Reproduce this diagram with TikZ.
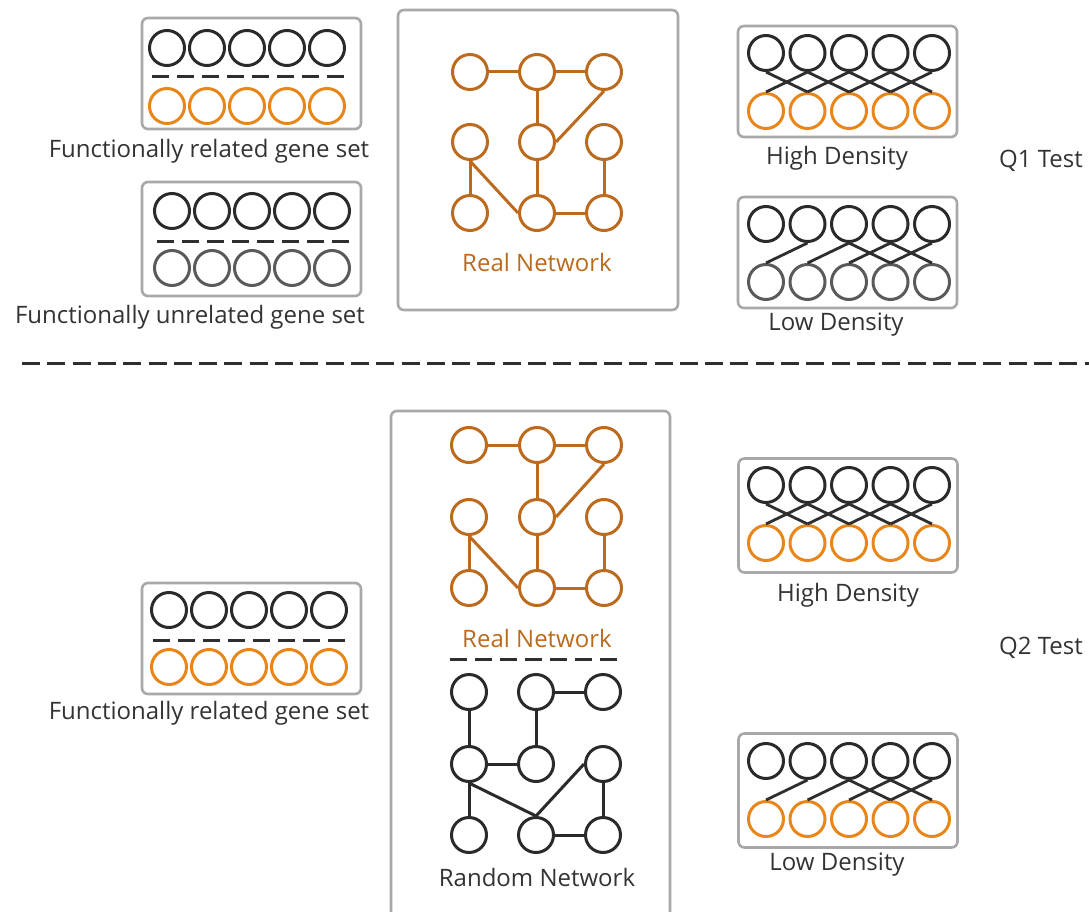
\documentclass[tikz,border=0pt]{standalone}
\usepackage{fontspec}
\setmainfont{Open Sans}
\definecolor{cblack}{HTML}{2A2A2A}
\definecolor{cgray}{HTML}{5A5A5A}
\definecolor{corange}{HTML}{E8861A}
\definecolor{cbrown}{HTML}{BC6A1E}
\definecolor{cpanel}{HTML}{A8A8A8}
\definecolor{cline}{HTML}{2E2E2E}
\definecolor{ctext}{HTML}{333333}
\begin{document}
\begin{tikzpicture}[x=1pt,y=-1pt,
  circ/.style={circle, line width=3pt, minimum size=35pt, inner sep=0pt},
  blk/.style={circ, draw=cblack},
  gry/.style={circ, draw=cgray},
  org/.style={circ, draw=corange},
  brn/.style={circ, draw=cbrown},
  panel/.style={draw=cpanel, line width=2.6pt, rounded corners=6pt, fill=white, inner sep=0pt},
  lbl/.style={font=\fontsize{24}{28}\selectfont, text=ctext, inner sep=0pt},
  blbl/.style={lbl, text=cbrown},
  dens/.style={draw=cline, line width=2.8pt},
  sepline/.style={draw=cline, line width=3pt, dash pattern=on 17pt off 8pt},
  edgeB/.style={draw=cbrown, line width=3pt},
  edgeK/.style={draw=cblack, line width=3pt}]
\useasboundingbox (0,0) rectangle (1089,912);
\clip (0,0) rectangle (1089,912);

% ---------------- Q1 ----------------
% functionally related gene set
\node[panel, minimum width=219pt, minimum height=111pt] (gs1) at (251.5,73.5) {};
\foreach \i in {1,...,5} {
  \node[blk] (gs1t\i) at ({167+40*(\i-1)},48) {};
  \node[org] (gs1b\i) at ({167+40*(\i-1)},106) {};
}
\coordinate (gs1dl) at (152,77);
\coordinate (gs1dr) at (345,77);
\draw[sepline] (gs1dl) -- (gs1dr);
\node[lbl] (gs1l) at (209,151) {Functionally related gene set};

% functionally unrelated gene set
\node[panel, minimum width=219pt, minimum height=114pt] (gs2) at (251.5,239) {};
\foreach \i in {1,...,5} {
  \node[blk] (gs2t\i) at ({172+40*(\i-1)},211) {};
  \node[gry] (gs2b\i) at ({172+40*(\i-1)},268) {};
}
\coordinate (gs2dl) at (157,241);
\coordinate (gs2dr) at (350,241);
\draw[sepline] (gs2dl) -- (gs2dr);
\node[lbl] (gs2l) at (190,317) {Functionally unrelated gene set};

% real network
\node[panel, minimum width=280pt, minimum height=300pt] (rn1) at (538,160) {};
\foreach \c/\x in {1/470,2/537,3/604} {
  \foreach \r/\y in {1/72,2/142,3/213} {
    \node[brn] (a\r\c) at (\x,\y) {};
  }
}
\draw[edgeB] (a11) -- (a12);
\draw[edgeB] (a12) -- (a13);
\draw[edgeB] (a12) -- (a22);
\draw[edgeB] (a13.south) -- (a22.east);
\draw[edgeB] (a21) -- (a31);
\draw[edgeB] (a21.south) -- (a32.west);
\draw[edgeB] (a22) -- (a32);
\draw[edgeB] (a23) -- (a33);
\draw[edgeB] (a32) -- (a33);
\node[blbl] (rn1l) at (537,262) {Real Network};

% high density Q1
\node[panel, minimum width=219pt, minimum height=111pt] (hd1) at (847.5,81.5) {};
\foreach \i in {1,...,5} {
  \node[blk] (hd1t\i) at ({766+41.5*(\i-1)},53) {};
  \node[org] (hd1b\i) at ({766+41.5*(\i-1)},111) {};
}
\foreach \i/\j in {1/2,2/1,2/3,3/2,3/4,4/3,4/5,5/4}
  \draw[dens] (hd1t\i.south) -- (hd1b\j.north);
\node[lbl] (hd1l) at (837,158) {High Density};

% low density Q1
\node[panel, minimum width=219pt, minimum height=111pt] (ld1) at (847.5,252.5) {};
\foreach \i in {1,...,5} {
  \node[blk] (ld1t\i) at ({766+41.5*(\i-1)},224) {};
  \node[gry] (ld1b\i) at ({766+41.5*(\i-1)},282) {};
}
\foreach \i/\j in {2/1,3/2,3/4,4/3,4/5,5/4}
  \draw[dens] (ld1t\i.south) -- (ld1b\j.north);
\node[lbl] (ld1l) at (836,325) {Low Density};

\node[lbl] (q1) at (1041,161) {Q1 Test};

% separator
\coordinate (sepL) at (22,363);
\coordinate (sepR) at (1095,363);
\draw[draw=cline, line width=3pt, dash pattern=on 18pt off 7.3pt] (sepL) -- (sepR);

% ---------------- Q2 ----------------
\node[panel, minimum width=219pt, minimum height=111pt] (gs3) at (251.5,638.5) {};
\foreach \i in {1,...,5} {
  \node[blk] (gs3t\i) at ({169+40*(\i-1)},610) {};
  \node[org] (gs3b\i) at ({169+40*(\i-1)},667) {};
}
\coordinate (gs3dl) at (153,640);
\coordinate (gs3dr) at (346,640);
\draw[sepline] (gs3dl) -- (gs3dr);
\node[lbl] (gs3l) at (209,713) {Functionally related gene set};

% real + random network
\node[panel, minimum width=279pt, minimum height=520pt] (rn2) at (530.5,671) {};
\foreach \c/\x in {1/469,2/537,3/604} {
  \foreach \r/\y in {1/445,2/517,3/588} {
    \node[brn] (b\r\c) at (\x,\y) {};
  }
}
\draw[edgeB] (b11) -- (b12);
\draw[edgeB] (b12) -- (b13);
\draw[edgeB] (b12) -- (b22);
\draw[edgeB] (b13.south) -- (b22.east);
\draw[edgeB] (b21) -- (b31);
\draw[edgeB] (b21.south) -- (b32.west);
\draw[edgeB] (b22) -- (b32);
\draw[edgeB] (b23) -- (b33);
\draw[edgeB] (b32) -- (b33);
\node[blbl] (rn2l) at (537,638) {Real Network};
\coordinate (rdl) at (450,659);
\coordinate (rdr) at (618,659);
\draw[sepline] (rdl) -- (rdr);
\foreach \c/\x in {1/469,2/536,3/603} {
  \foreach \r/\y in {1/692,2/764,3/835} {
    \node[blk] (c\r\c) at (\x,\y) {};
  }
}
\draw[edgeK] (c11) -- (c21);
\draw[edgeK] (c12) -- (c13);
\draw[edgeK] (c12) -- (c22);
\draw[edgeK] (c21) -- (c22);
\draw[edgeK] (c21) -- (c31);
\draw[edgeK] (c21.south) -- (c32.north);
\draw[edgeK] (c23.west) -- (c32.north);
\draw[edgeK] (c23) -- (c33);
\draw[edgeK] (c32) -- (c33);
\node[lbl] (rn2r) at (537,877) {Random Network};

% high density Q2
\node[panel, minimum width=219pt, minimum height=114pt] (hd2) at (848,515.5) {};
\foreach \i in {1,...,5} {
  \node[blk] (hd2t\i) at ({766+41.5*(\i-1)},485) {};
  \node[org] (hd2b\i) at ({766+41.5*(\i-1)},543) {};
}
\foreach \i/\j in {1/2,2/1,2/3,3/2,3/4,4/3,4/5,5/4}
  \draw[dens] (hd2t\i.south) -- (hd2b\j.north);
\node[lbl] (hd2l) at (848,595) {High Density};

% low density Q2
\node[panel, minimum width=219pt, minimum height=114pt] (ld2) at (848,790.5) {};
\foreach \i in {1,...,5} {
  \node[blk] (ld2t\i) at ({766+41.5*(\i-1)},761) {};
  \node[org] (ld2b\i) at ({766+41.5*(\i-1)},819) {};
}
\foreach \i/\j in {2/1,3/2,3/4,4/3,4/5,5/4}
  \draw[dens] (ld2t\i.south) -- (ld2b\j.north);
\node[lbl] (ld2l) at (837,865) {Low Density};

\node[lbl] (q2) at (1041,648) {Q2 Test};
\end{tikzpicture}
\end{document}
